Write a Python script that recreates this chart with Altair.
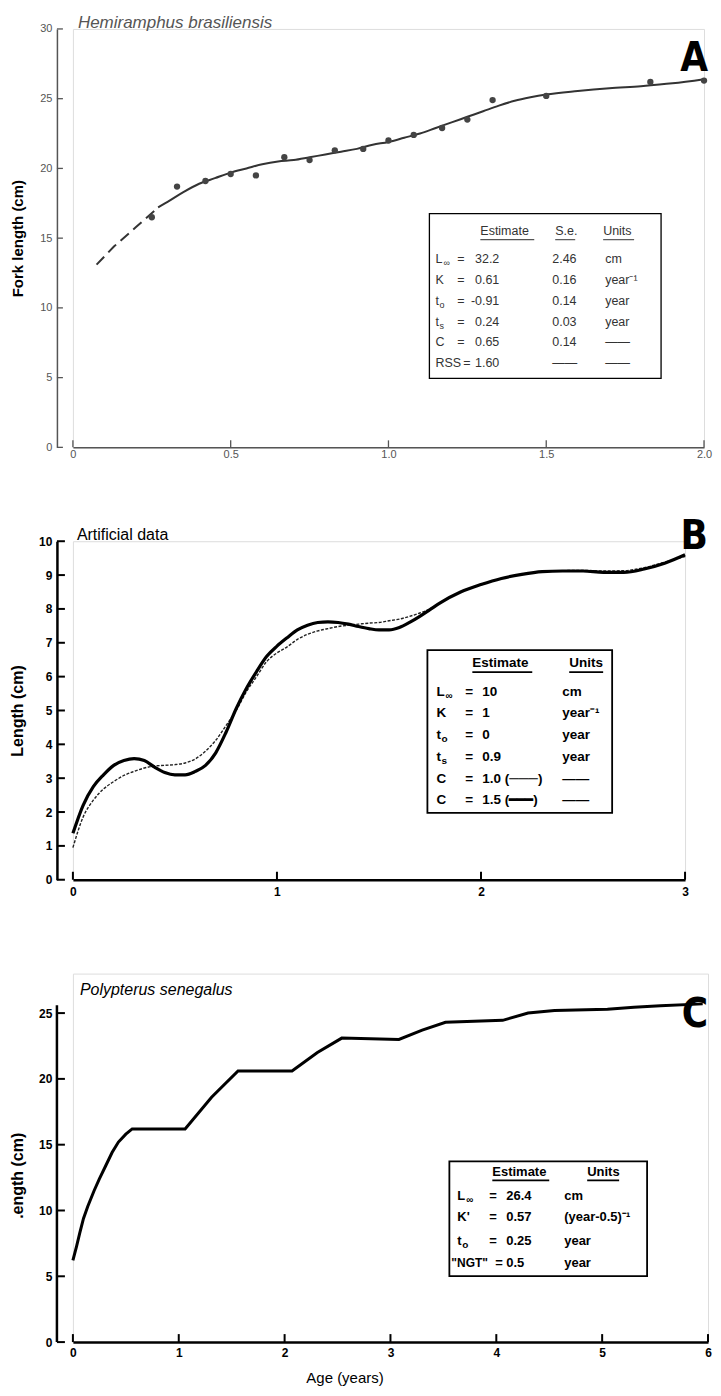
import altair as alt
import pandas as pd

FONT = "Liberation Sans"
BIG = "DejaVu Sans Condensed, Liberation Sans Narrow, Liberation Sans"

# ---------------- Panel A : Hemiramphus brasiliensis ----------------
a_xticks = [0, 0.5, 1.0, 1.5, 2.0]
a_yticks = [0, 5, 10, 15, 20, 25, 30]
a_age = [0.25, 0.33, 0.42, 0.50, 0.58, 0.67, 0.75, 0.83, 0.92, 1.00, 1.08, 1.17, 1.25, 1.33, 1.50, 1.83, 2.00]
a_len = [16.5, 18.7, 19.1, 19.6, 19.5, 20.8, 20.6, 21.3, 21.4, 22.0, 22.4, 22.9, 23.5, 24.9, 25.2, 26.2, 26.3]
a_fit_age = [0.27, 0.30, 0.35, 0.40, 0.45, 0.50, 0.55, 0.60, 0.65, 0.70, 0.75, 0.80, 0.85, 0.90, 0.95,
             1.00, 1.05, 1.10, 1.15, 1.20, 1.25, 1.30, 1.35, 1.40, 1.45, 1.50, 1.60, 1.70, 1.80, 1.90, 2.00]
a_fit_len = [17.2, 17.6, 18.3, 18.9, 19.3, 19.7, 20.0, 20.3, 20.5, 20.6, 20.8, 21.0, 21.2, 21.4, 21.7,
             21.9, 22.2, 22.5, 22.9, 23.3, 23.7, 24.1, 24.5, 24.85, 25.1, 25.3, 25.55, 25.75, 25.9, 26.1, 26.4]
a_ext_age = [0.075, 0.13, 0.20, 0.27]
a_ext_len = [13.1, 14.4, 15.8, 17.2]

# ---------------- Panel B : Artificial data ----------------
b_xticks = [0, 1, 2, 3]
b_yticks = [0, 1, 2, 3, 4, 5, 6, 7, 8, 9, 10]
b_age = [0, 0.05, 0.1, 0.15, 0.2, 0.25, 0.3, 0.35, 0.4, 0.45, 0.5, 0.55, 0.6, 0.65, 0.7, 0.75, 0.8,
         0.85, 0.9, 0.95, 1.0, 1.05, 1.1, 1.15, 1.2, 1.25, 1.3, 1.35, 1.4, 1.45, 1.5, 1.55, 1.6, 1.65,
         1.7, 1.75, 1.8, 1.9, 2.0, 2.1, 2.2, 2.3, 2.4, 2.5, 2.6, 2.7, 2.8, 2.9, 3.0]
b_len_c15 = [1.37, 2.2, 2.75, 3.1, 3.38, 3.52, 3.58, 3.52, 3.33, 3.17, 3.1, 3.1, 3.2, 3.38, 3.75, 4.35,
             5.05, 5.65, 6.15, 6.6, 6.9, 7.15, 7.38, 7.52, 7.6, 7.62, 7.6, 7.55, 7.48, 7.42, 7.38, 7.38,
             7.45, 7.6, 7.78, 7.98, 8.18, 8.5, 8.72, 8.9, 9.02, 9.1, 9.12, 9.12, 9.08, 9.08, 9.18, 9.35, 9.6]
b_len_c10 = [0.95, 1.85, 2.35, 2.68, 2.9, 3.08, 3.2, 3.3, 3.36, 3.38, 3.4, 3.45, 3.57, 3.8, 4.12, 4.55,
             5.0, 5.55, 6.0, 6.45, 6.7, 6.88, 7.1, 7.25, 7.35, 7.42, 7.48, 7.52, 7.55, 7.58, 7.6, 7.65,
             7.7, 7.78, 7.88, 8.0, 8.18, 8.5, 8.72, 8.9, 9.02, 9.1, 9.13, 9.14, 9.12, 9.13, 9.22, 9.38, 9.55]

# ---------------- Panel C : Polypterus senegalus ----------------
c_xticks = [0, 1, 2, 3, 4, 5, 6]
c_yticks = [0, 5, 10, 15, 20, 25]
c_age = [0.0, 0.035, 0.065, 0.10, 0.14, 0.20, 0.25, 0.31, 0.37, 0.43, 0.50, 0.56, 1.06, 1.31, 1.56,
         2.07, 2.31, 2.54, 3.08, 3.30, 3.52, 4.06, 4.30, 4.55, 5.05, 5.30, 5.55, 5.95]
c_len = [6.2, 7.3, 8.3, 9.4, 10.3, 11.5, 12.4, 13.4, 14.4, 15.2, 15.8, 16.2, 16.2, 18.6, 20.6,
         20.6, 22.0, 23.1, 23.0, 23.7, 24.3, 24.45, 25.0, 25.2, 25.3, 25.45, 25.55, 25.7]

A_W, B_W, C_W = 632, 613, 636
A_H, B_H, C_H = 419, 339, 369
C_TOP = 26.58


def txt(s, px, py, size=12.5, weight="normal", align="left", color="black", style="normal",
        font=FONT, baseline="middle"):
    return alt.Chart(pd.DataFrame({"t": [s]})).mark_text(
        align=align, baseline=baseline, fontSize=size, fontWeight=weight, font=font,
        color=color, fontStyle=style
    ).encode(x=alt.value(px), y=alt.value(py), text="t:N")


def hrule(x1, x2, y, color="black", w=1.2):
    return alt.Chart(pd.DataFrame({"k": [0]})).mark_rule(color=color, strokeWidth=w).encode(
        x=alt.value(x1), x2=alt.value(x2), y=alt.value(y))


def box(x1, x2, y1, y2, w=1.3):
    return alt.Chart(pd.DataFrame({"k": [0]})).mark_rect(
        fill="white", stroke="black", strokeWidth=w).encode(
        x=alt.value(x1), x2=alt.value(x2), y=alt.value(y1), y2=alt.value(y2))


def axis_x(values, color, width, lab_color, lab_size, lab_weight, pad, label_expr=None, **kw):
    args = dict(values=values, ticks=False, tickSize=0, domainColor=color, domainWidth=width,
                labelColor=lab_color, labelFontSize=lab_size, labelFontWeight=lab_weight,
                labelFont=FONT, labelPadding=pad, grid=False, labelFlush=False)
    if label_expr:
        args["labelExpr"] = label_expr
    args.update(kw)
    return alt.Axis(**args)


def axis_y(values, title, H, color, width, lab_color, lab_size, lab_weight, title_size, **kw):
    args = dict(values=values, title=title, offset=16, ticks=False, tickSize=0,
                domainColor=color, domainWidth=width, labelColor=lab_color,
                labelFontSize=lab_size, labelFontWeight=lab_weight, labelFont=FONT,
                labelPadding=5, grid=False, labelFlush=False,
                titleFont=FONT, titleFontSize=title_size, titleFontWeight="bold",
                titleColor="black", titleX=-31, titleY=H / 2)
    args.update(kw)
    return alt.Axis(**args)


# ======== Panel A ========
AX = alt.X("age:Q", scale=alt.Scale(domain=[0, 2]),
           axis=axis_x(a_xticks, "#555", 1.5, "#555", 11, "normal", 1,
                       "datum.value == 0 ? '0' : format(datum.value, '.1f')", title=None))
AY = alt.Y("len:Q", scale=alt.Scale(domain=[0, 30]),
           axis=axis_y(a_yticks, "Fork length (cm)", A_H, "#555", 1.5, "#555", 11, "normal", 15))

a_pts = pd.DataFrame({"age": a_age, "len": a_len})
a_fit = pd.DataFrame({"age": a_fit_age, "len": a_fit_len})
a_ext = pd.DataFrame({"age": a_ext_age, "len": a_ext_len})

A_layers = [
    alt.Chart(pd.DataFrame({"age": a_xticks})).mark_rule(color="#555", strokeWidth=1.3).encode(
        x=AX, y=alt.value(A_H), y2=alt.value(A_H - 7)),
    alt.Chart(pd.DataFrame({"len": a_yticks})).mark_rule(color="#555", strokeWidth=1.3).encode(
        y=AY, x=alt.value(-16), x2=alt.value(-10)),
    alt.Chart(a_ext).mark_line(color="#333", strokeWidth=2, strokeDash=[11, 6]).encode(x=AX, y=AY),
    alt.Chart(a_fit).mark_line(color="#333", strokeWidth=2, interpolate="monotone").encode(x=AX, y=AY),
    alt.Chart(a_pts).mark_circle(size=40, color="#444", opacity=1).encode(x=AX, y=AY),
    txt("Hemiramphus brasiliensis", 5, -6, size=17, style="italic", color="#555"),
    txt("A", 636, 30, size=40, weight="bold", font=BIG, align="right"),
    box(357, 589, 185, 350),
]
A_col = "#333"
A_layers += [
    txt("Estimate", 408, 202, color=A_col), txt("S.e.", 483, 202, color=A_col), txt("Units", 531, 202, color=A_col),
    hrule(408, 462, 211, "#555"), hrule(483, 503, 211, "#555"), hrule(531, 562, 211, "#555"),
]
a_rows = [("L", "\u221e", "=", "32.2", "2.46", "cm"),
          ("K", "", "=", "0.61", "0.16", "year\u207b\u00b9"),
          ("t", "o", "=", "-0.91", "0.14", "year"),
          ("t", "s", "=", "0.24", "0.03", "year"),
          ("C", "", "=", "0.65", "0.14", "\u2014\u2014"),
          ("RSS", "", "=", "1.60", "\u2014\u2014", "\u2014\u2014")]
a_row_y = [230, 251, 272, 293, 314, 335]
for (lab, sub, eq, val, se, unit), y in zip(a_rows, a_row_y):
    A_layers.append(txt(lab, 363, y, color=A_col))
    if sub:
        A_layers.append(txt(sub, 363 + (8 if lab == "L" else 4), y + 4, size=9, color=A_col))
    A_layers.append(txt(eq, 385 if lab != "RSS" else 391, y, color=A_col))
    A_layers.append(txt(val, 427, y, align="right", color=A_col))
    A_layers.append(txt(se, 480, y, color=A_col))
    A_layers.append(txt(unit, 533, y, color=A_col))

panelA = alt.layer(*A_layers).properties(width=A_W, height=A_H)

# ======== Panel B ========
BX = alt.X("age:Q", scale=alt.Scale(domain=[0, 3]),
           axis=axis_x(b_xticks, "black", 2.5, "black", 12, "bold", 7, title=None))
BY = alt.Y("len:Q", scale=alt.Scale(domain=[0, 10]),
           axis=axis_y(b_yticks, "Length (cm)", B_H, "black", 2.5, "black", 12, "bold", 16))

b15 = pd.DataFrame({"age": b_age, "len": b_len_c15})
b10 = pd.DataFrame({"age": b_age, "len": b_len_c10})

B_layers = [
    alt.Chart(pd.DataFrame({"age": b_xticks})).mark_rule(color="black", strokeWidth=2).encode(
        x=BX, y=alt.value(B_H), y2=alt.value(B_H - 8)),
    alt.Chart(pd.DataFrame({"len": b_yticks})).mark_rule(color="black", strokeWidth=2).encode(
        y=BY, x=alt.value(-16), x2=alt.value(-8)),
    alt.Chart(b10).mark_line(color="#222", strokeWidth=1.4, strokeDash=[3, 1.5],
                             interpolate="monotone").encode(x=BX, y=BY),
    alt.Chart(b15).mark_line(color="black", strokeWidth=3.2, interpolate="monotone").encode(x=BX, y=BY),
    txt("Artificial data", 4, -6, size=16),
    txt("B", 636, -4, size=40, weight="bold", font=BIG, align="right"),
    box(355, 540, 109, 272, 1.8),
    txt("Estimate", 400, 122, size=13.5, weight="bold"), txt("Units", 497, 122, size=13.5, weight="bold"),
    hrule(400, 460, 131, "black", 1.8), hrule(497, 531, 131, "black", 1.8),
]
b_rows = [("L", "\u221e", "10", "cm"), ("K", "", "1", "year\u207b\u00b9"), ("t", "o", "0", "year"),
          ("t", "s", "0.9", "year"), ("C", "", "1.0 (\u2500\u2500\u2500)", "\u2014\u2014"),
          ("C", "", "1.5 (\u2501\u2501\u2501)", "\u2014\u2014")]
b_row_y = [151, 172, 194, 216, 238, 259]
for (lab, sub, val, unit), y in zip(b_rows, b_row_y):
    B_layers.append(txt(lab, 364, y, size=13.5, weight="bold"))
    if sub:
        B_layers.append(txt(sub, 364 + (9 if lab == "L" else 5), y + 4, size=10, weight="bold"))
    B_layers.append(txt("=", 393, y, size=13.5, weight="bold"))
    B_layers.append(txt(val, 410, y, size=13.5, weight="bold"))
    B_layers.append(txt(unit, 490, y, size=13.5, weight="bold"))

panelB = alt.layer(*B_layers).properties(width=B_W, height=B_H)

# ======== Panel C ========
CX = alt.X("age:Q", scale=alt.Scale(domain=[0, 6]),
           axis=axis_x(c_xticks, "black", 2.5, "black", 12, "bold", 5, title="Age (years)",
                       titleFont=FONT, titleFontSize=15, titleFontWeight="normal", titleColor="black",
                       titleX=272, titleY=35, titleBaseline="middle"))
CY = alt.Y("len:Q", scale=alt.Scale(domain=[0, C_TOP]),
           axis=axis_y(c_yticks, ".ength (cm)", C_H + 35, "black", 2.5, "black", 12, "bold", 16,
                       domain=False))

c_df = pd.DataFrame({"age": c_age, "len": c_len})

C_layers = [
    alt.Chart(pd.DataFrame({"k": [0]})).mark_rule(color="black", strokeWidth=2.5).encode(
        x=alt.value(-16), y=alt.datum(0), y2=alt.datum(25.6)),
    alt.Chart(pd.DataFrame({"age": c_xticks})).mark_rule(color="black", strokeWidth=2).encode(
        x=CX, y=alt.value(C_H), y2=alt.value(C_H - 8)),
    alt.Chart(pd.DataFrame({"len": c_yticks})).mark_rule(color="black", strokeWidth=2).encode(
        y=CY, x=alt.value(-16), x2=alt.value(-8)),
    alt.Chart(c_df).mark_line(color="black", strokeWidth=3).encode(x=CX, y=CY),
    txt("Polypterus senegalus", 7, 16, size=16, style="italic"),
    txt("C", 636, 41, size=40, weight="bold", font=BIG, align="right"),
    box(377, 575, 188, 303, 1.8),
    txt("Estimate", 420, 199, size=13, weight="bold"), txt("Units", 515, 199, size=13, weight="bold"),
    hrule(420, 477, 207, "black", 1.8), hrule(515, 547, 207, "black", 1.8),
]
c_rows = [("L", "\u221e", "26.4", "cm"), ("K'", "", "0.57", "(year-0.5)\u207b\u00b9"),
          ("t", "o", "0.25", "year"), ("\"NGT\"", "", "0.5", "year")]
c_row_y = [223, 244, 268, 290]
for (lab, sub, val, unit), y in zip(c_rows, c_row_y):
    if lab == "\"NGT\"":
        C_layers.append(txt(lab, 379, y, size=12, weight="bold"))
        C_layers.append(txt("=", 423, y, size=13, weight="bold"))
    else:
        C_layers.append(txt(lab, 385, y, size=13, weight="bold"))
        C_layers.append(txt("=", 417, y, size=13, weight="bold"))
    if sub:
        C_layers.append(txt(sub, 385 + (9 if lab == "L" else 5), y + 4, size=10, weight="bold"))
    C_layers.append(txt(val, 434, y, size=13, weight="bold"))
    C_layers.append(txt(unit, 492, y, size=13, weight="bold"))

panelC = alt.layer(*C_layers).properties(width=C_W, height=C_H)

chart = alt.vconcat(panelA, panelB, panelC, spacing=94, bounds="flush").properties(
    padding={"left": 1, "top": 4, "right": 0, "bottom": 1}
).configure_view(stroke=None).configure(background="white")

chart.save("out.html", embed_options={"renderer": "svg", "actions": False})
